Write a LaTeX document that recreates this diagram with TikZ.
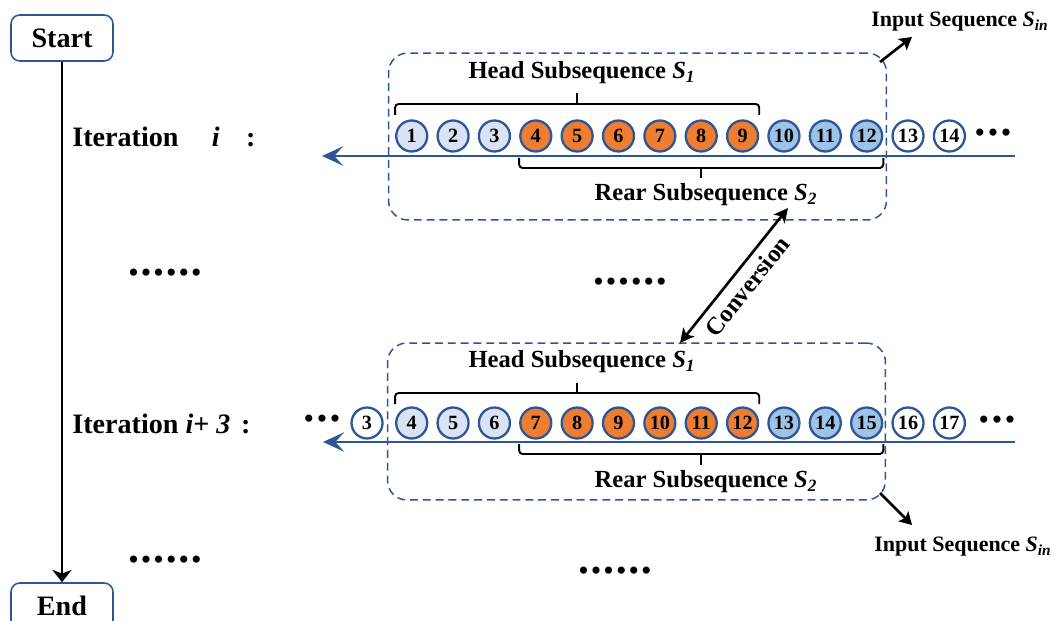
\documentclass[tikz,border=0pt]{standalone}
\usepackage{fontspec}
\setmainfont{Liberation Serif}
\usetikzlibrary{arrows.meta}
\definecolor{seqblue}{HTML}{2F5597}
\definecolor{headfill}{HTML}{DAE3F3}
\definecolor{rearfill}{HTML}{ED7D31}
\definecolor{tailfill}{HTML}{9DC3E6}

\begin{document}
\begin{tikzpicture}[
  x=0.02cm,
  y=-0.02cm,
  every node/.style={text=black},
  termbox/.style={draw=seqblue, line width=0.9pt, rounded corners=5pt,
                  minimum width=2.04cm, minimum height=0.92cm, inner sep=0pt,
                  font=\fontsize{16}{16}\selectfont\bfseries},
  flow/.style={black, line width=1.6pt,
               -{Stealth[length=7pt, width=11pt, inset=2pt]}},
  itertext/.style={anchor=west, inner sep=0pt,
                   font=\fontsize{16}{16}\selectfont\bfseries},
  dotstext/.style={inner sep=0pt, font=\fontsize{17}{17}\selectfont},
  winbox/.style={draw=seqblue, line width=0.85pt,
                 dash pattern=on 4.5pt off 2.8pt, rounded corners=11pt,
                 minimum width=9.96cm, inner sep=0pt},
  seqline/.style={seqblue, line width=1.4pt,
                  -{Stealth[length=12pt, width=11pt, inset=5pt]}},
  seqdot/.style={circle, draw=seqblue, line width=1.3pt, inner sep=0pt,
                 minimum size=0.62cm, font=\fontsize{11.5}{11.5}\selectfont\bfseries},
  headdot/.style={seqdot, fill=headfill},
  reardot/.style={seqdot, fill=rearfill},
  taildot/.style={seqdot, fill=tailfill},
  freedot/.style={seqdot, fill=white},
  bracket/.style={black, line width=1.1pt, rounded corners=2pt},
  subtext/.style={inner sep=0pt, font=\fontsize{14}{14}\selectfont\bfseries},
  inputtext/.style={inner sep=0pt, font=\fontsize{12.5}{12.5}\selectfont\bfseries},
  pointer/.style={black, line width=1.5pt,
                  -{Stealth[length=7pt, width=8pt, inset=1.5pt]}},
  convarrow/.style={black, line width=1.5pt,
                    {Stealth[length=8pt, width=8pt, inset=2pt]}-{Stealth[length=8pt, width=8pt, inset=2pt]}},
  convtext/.style={sloped, below, inner sep=0pt, yshift=-4pt,
                   font=\fontsize{14}{14}\selectfont\bfseries}
]
  \useasboundingbox (0,0) rectangle (1057,621);

  % ---- start / end of the loop ----
  \node[termbox] (start) at (62,38)  {Start};
  \node[termbox] (end)   at (62,606) {End};
  \draw[flow] (start) -- (end);

  % ---- iteration labels ----
  \node[itertext] (iter-a) at (72,137)
    {Iteration\hspace{19pt}\textit{i}\hspace{15pt}:};
  \node[itertext] (iter-b) at (72,424)
    {Iteration \textit{i}+ \textit{3}\hspace{6pt}:};

  % ---- skipped iterations ----
  \node[dotstext] (skip-a) at (165,276) {•\kern1.2pt•\kern1.2pt•\kern1.2pt•\kern1.2pt•\kern1.2pt•};
  \node[dotstext] (skip-b) at (630,285) {•\kern1.2pt•\kern1.2pt•\kern1.2pt•\kern1.2pt•\kern1.2pt•};
  \node[dotstext] (skip-c) at (165,563) {•\kern1.2pt•\kern1.2pt•\kern1.2pt•\kern1.2pt•\kern1.2pt•};
  \node[dotstext] (skip-d) at (615,574) {•\kern1.2pt•\kern1.2pt•\kern1.2pt•\kern1.2pt•\kern1.2pt•};

  % ---- dashed windows ----
  \node[winbox, minimum height=3.34cm] (win-a) at (637.5,136.5) {};
  \node[winbox, minimum height=3.14cm] (win-b) at (636.5,421.5) {};

  % ---- sequence lines ----
  \coordinate (line-a-r) at (1015,156);
  \coordinate (line-a-l) at (322,156);
  \coordinate (line-b-r) at (1015,442);
  \coordinate (line-b-l) at (323,442);
  \draw[seqline] (line-a-r) -- (line-a-l);
  \draw[seqline] (line-b-r) -- (line-b-l);

  % ---- iteration i ----
  \foreach \n in {1,2,3}
    \node[headdot] (ra\n) at ({411.7+(\n-1)*41.36},136) {\n};
  \foreach \n in {4,...,9}
    \node[reardot] (ra\n) at ({411.7+(\n-1)*41.36},136) {\n};
  \foreach \n in {10,11,12}
    \node[taildot] (ra\n) at ({411.7+(\n-1)*41.36},136) {\n};
  \foreach \n in {13,14}
    \node[freedot] (ra\n) at ({411.7+(\n-1)*41.36},136) {\n};
  \node[dotstext] (more-a) at (993,136) {•\kern1.5pt•\kern1.5pt•};

  % ---- iteration i+3 ----
  \node[dotstext] (more-b) at (322,422) {•\kern1.5pt•\kern1.5pt•};
  \node[freedot] (rb3) at (367,423) {3};
  \foreach \n in {4,5,6}
    \node[headdot] (rb\n) at ({411.7+(\n-4)*41.36},423) {\n};
  \foreach \n in {7,...,12}
    \node[reardot] (rb\n) at ({411.7+(\n-4)*41.36},423) {\n};
  \foreach \n in {13,14,15}
    \node[taildot] (rb\n) at ({411.7+(\n-4)*41.36},423) {\n};
  \foreach \n in {16,17}
    \node[freedot] (rb\n) at ({411.7+(\n-4)*41.36},423) {\n};
  \node[dotstext] (more-c) at (997,423) {•\kern1.5pt•\kern1.5pt•};

  % ---- head and rear brackets ----
  \draw[bracket] (ra1.west |- 0,115) -- (ra1.west |- 0,104)
                 -- (ra9.east |- 0,104) -- (ra9.east |- 0,115);
  \draw[bracket] (ra5 |- 0,104) -- (ra5 |- 0,93);
  \draw[bracket] (ra4.west |- 0,158) -- (ra4.west |- 0,168)
                 -- (ra12.east |- 0,168) -- (ra12.east |- 0,158);
  \draw[bracket] (ra8 |- 0,168) -- (ra8 |- 0,178);

  \draw[bracket] (rb4.west |- 0,404) -- (rb4.west |- 0,393)
                 -- (rb12.east |- 0,393) -- (rb12.east |- 0,404);
  \draw[bracket] (rb8 |- 0,393) -- (rb8 |- 0,383);
  \draw[bracket] (rb7.west |- 0,444) -- (rb7.west |- 0,454)
                 -- (rb15.east |- 0,454) -- (rb15.east |- 0,444);
  \draw[bracket] (rb11 |- 0,454) -- (rb11 |- 0,465);

  % ---- subsequence labels ----
  \node[subtext] (head-a) at (582,73)
    {Head Subsequence \textit{S}\textsubscript{\textit{1}}};
  \node[subtext] (rear-a) at (706,195)
    {Rear Subsequence \textit{S}\textsubscript{\textit{2}}};
  \node[subtext] (head-b) at (582,362)
    {Head Subsequence \textit{S}\textsubscript{\textit{1}}};
  \node[subtext] (rear-b) at (706,482)
    {Rear Subsequence \textit{S}\textsubscript{\textit{2}}};

  % ---- input sequence pointers ----
  \node[inputtext] (input-a) at (960,22)
    {Input Sequence \textit{S}\textsubscript{\textit{in}}};
  \node[inputtext] (input-b) at (963,547)
    {Input Sequence \textit{S}\textsubscript{\textit{in}}};
  \coordinate (ptr-a-from) at (880,62);
  \coordinate (ptr-a-to)   at (912,37);
  \coordinate (ptr-b-from) at (880,493);
  \coordinate (ptr-b-to)   at (912,525);
  \draw[pointer] (ptr-a-from) -- (ptr-a-to);
  \draw[pointer] (ptr-b-from) -- (ptr-b-to);

  % ---- conversion between the two windows ----
  \coordinate (conv-bot) at (680,343);
  \coordinate (conv-top) at (788,208);
  \draw[convarrow] (conv-bot) -- node[convtext] (conv-label) {Conversion} (conv-top);
\end{tikzpicture}
\end{document}
